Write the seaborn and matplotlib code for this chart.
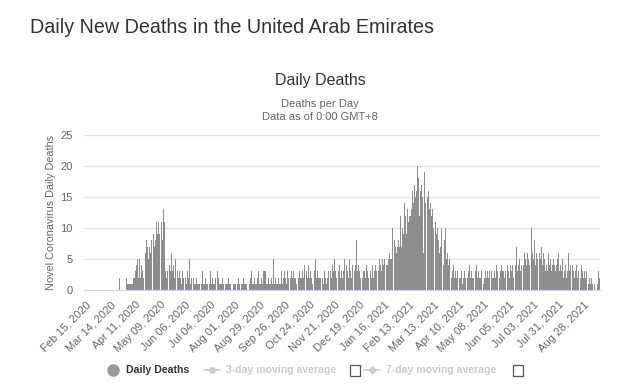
import seaborn as sns
import pandas as pd
import matplotlib.pyplot as plt
from matplotlib.lines import Line2D
from matplotlib.patches import Rectangle

# daily deaths (Feb 15 2020 .. Sep 15 2021)
feb_2020 = [0] * 15
mar_2020 = [0] * 23 + [2] + [0] * 7
apr_2020 = [2, 1, 2, 1, 1, 1, 1, 1, 2, 2, 3, 2, 4, 5, 2, 5, 2, 4, 3, 2, 6, 4, 6, 8, 7, 5, 7, 6, 8, 7]
may_2020 = [7, 9, 7, 8, 11, 9, 11, 9, 7, 9, 11, 8, 13, 11, 3, 2, 3, 6, 2, 4, 3, 6, 3, 4, 2, 5, 3, 2, 3, 2, 3]
jun_2020 = [2, 1, 3, 2, 2, 1, 2, 1, 3, 2, 5, 1, 2, 1, 2, 2, 1, 1, 2, 1, 1, 1, 2, 1, 1, 3, 1, 1, 2, 1]
jul_2020 = [1, 2, 1, 1, 3, 1, 2, 1, 1, 2, 1, 1, 3, 2, 1, 1, 1, 2, 1, 1, 0, 1, 1, 1, 2, 1, 1, 0, 1, 1, 1]
aug_2020 = [1, 1, 0, 1, 2, 1, 1, 0, 1, 1, 2, 1, 1, 1, 0, 1, 1, 1, 2, 3, 1, 1, 2, 1, 1, 0, 2, 3, 1, 1, 2]
sep_2020 = [1, 3, 3, 2, 3, 1, 1, 2, 1, 1, 2, 1, 1, 5, 1, 2, 1, 1, 2, 1, 1, 2, 3, 1, 2, 3, 2, 1, 3, 2]
oct_2020 = [2, 1, 2, 3, 2, 3, 2, 2, 1, 6, 4, 2, 3, 2, 2, 3, 2, 4, 2, 2, 3, 2, 4, 2, 3, 2, 1, 3, 2, 3, 5]
nov_2020 = [2, 3, 2, 2, 2, 6, 3, 2, 1, 3, 2, 1, 2, 3, 5, 2, 3, 2, 4, 3, 5, 3, 2, 3, 2, 3, 4, 2, 3, 2]
dec_2020 = [3, 5, 3, 2, 4, 3, 2, 5, 3, 2, 4, 3, 5, 3, 4, 8, 3, 4, 3, 2, 3, 4, 2, 3, 3, 2, 4, 3, 2, 4, 2]
jan_2021 = [3, 2, 4, 2, 3, 4, 3, 2, 4, 3, 5, 4, 3, 5, 4, 5, 6, 7, 4, 4, 5, 6, 5, 5, 10, 6, 6, 8, 7, 6, 7]
feb_2021 = [8, 7, 12, 7, 8, 10, 9, 14, 12, 9, 13, 11, 12, 18, 12, 13, 16, 14, 17, 15, 16, 20, 15, 18, 12, 16, 17, 15]
mar_2021 = [6, 19, 14, 16, 17, 15, 16, 13, 14, 12, 13, 10, 12, 16, 11, 9, 10, 8, 6, 7, 10, 5, 6, 4, 8, 10, 5, 6, 4, 5, 3]
apr_2021 = [3, 2, 3, 4, 2, 3, 2, 3, 2, 3, 2, 2, 3, 1, 2, 3, 2, 3, 2, 2, 3, 4, 2, 3, 2, 2, 3, 2, 3, 4]
may_2021 = [2, 3, 2, 2, 3, 2, 3, 1, 2, 3, 2, 3, 2, 3, 4, 2, 3, 2, 2, 3, 2, 4, 3, 2, 3, 2, 3, 4, 3, 3, 2]
jun_2021 = [3, 2, 3, 4, 3, 2, 4, 3, 4, 2, 3, 5, 4, 7, 3, 4, 5, 3, 4, 6, 3, 4, 6, 5, 4, 6, 5, 4, 3, 5]
jul_2021 = [10, 6, 5, 8, 4, 6, 5, 4, 3, 6, 5, 7, 4, 6, 5, 3, 4, 5, 3, 6, 4, 5, 3, 4, 5, 4, 7, 3, 4, 5, 6]
aug_2021 = [3, 4, 3, 5, 3, 2, 3, 4, 2, 3, 6, 3, 4, 2, 3, 4, 3, 2, 3, 4, 2, 3, 2, 3, 2, 4, 3, 2, 3, 2, 3]
sep_2021 = [2, 3, 1, 2, 1, 2, 1, 0, 1, 1, 2, 0, 1, 3, 2]

deaths = (feb_2020 + mar_2020 + apr_2020 + may_2020 + jun_2020 + jul_2020 + aug_2020
          + sep_2020 + oct_2020 + nov_2020 + dec_2020 + jan_2021 + feb_2021 + mar_2021
          + apr_2021 + may_2021 + jun_2021 + jul_2021 + aug_2021 + sep_2021)
dates = pd.date_range('2020-02-15', periods=len(deaths), freq='D')

tick_labels = ['Feb 15, 2020', 'Mar 14, 2020', 'Apr 11, 2020', 'May 09, 2020', 'Jun 06, 2020',
               'Jul 04, 2020', 'Aug 01, 2020', 'Aug 29, 2020', 'Sep 26, 2020', 'Oct 24, 2020',
               'Nov 21, 2020', 'Dec 19, 2020', 'Jan 16, 2021', 'Feb 13, 2021', 'Mar 13, 2021',
               'Apr 10, 2021', 'May 08, 2021', 'Jun 05, 2021', 'Jul 03, 2021', 'Jul 31, 2021',
               'Aug 28, 2021']

df = pd.DataFrame({'day': range(len(deaths)), 'date': dates, 'deaths': deaths})

sns.set_style('white')
plt.rcParams['font.family'] = ['Liberation Sans', 'DejaVu Sans']

fig = plt.figure(figsize=(6.28, 3.85), dpi=100)
ax = fig.add_axes([0.133, 0.247, 0.823, 0.402])

sns.barplot(data=df, x='day', y='deaths', color='#8e8e8e', saturation=1,
            width=0.9, linewidth=0, native_scale=True, ax=ax)

ax.set_xlim(-2, len(deaths))
ax.set_ylim(0, 25)
ax.set_yticks(range(0, 26, 5))
ax.yaxis.grid(True, color='#e6e6e6', linewidth=1)
ax.set_axisbelow(True)
for s in ['top', 'right', 'left']:
    ax.spines[s].set_visible(False)
ax.spines['bottom'].set_color('#ccd6eb')

tick_pos = [df.index[df['date'] == pd.to_datetime(t)][0] for t in tick_labels]
ax.set_xticks(tick_pos)
ax.set_xticklabels(tick_labels, rotation=45, ha='right', rotation_mode='anchor',
                   fontsize=8, color='#666666')
ax.tick_params(axis='x', length=4, color='#ccd6eb', pad=3)
ax.tick_params(axis='y', length=0, labelsize=8, labelcolor='#666666', pad=8)
ax.set_xlabel('')
ax.set_ylabel('Novel Coronavirus Daily Deaths', fontsize=7.8, color='#666666', labelpad=3)

fig.text(0.048, 0.915, 'Daily New Deaths in the United Arab Emirates', fontsize=14.2,
         color='#333333')
fig.text(0.51, 0.778, 'Daily Deaths', fontsize=11.5, color='#333333', ha='center')
fig.text(0.51, 0.722, 'Deaths per Day', fontsize=8, color='#666666', ha='center')
fig.text(0.51, 0.688, 'Data as of 0:00 GMT+8', fontsize=8, color='#666666', ha='center')

# legend
ly = 1 - 370 / 385
fig.add_artist(Line2D([113 / 628], [ly], marker='o', markersize=8, color='#999999',
                      transform=fig.transFigure))
fig.text(126 / 628, ly, 'Daily Deaths', fontsize=7.6, weight='bold', color='#333333', va='center')
fig.add_artist(Line2D([204 / 628, 220 / 628], [ly, ly], color='#cccccc', linewidth=1.2,
                      transform=fig.transFigure))
fig.add_artist(Line2D([212 / 628], [ly], marker='o', markersize=4, color='#cccccc',
                      transform=fig.transFigure))
fig.text(226 / 628, ly, '3-day moving average', fontsize=7.6, weight='bold', color='#cccccc', va='center')
fig.add_artist(Line2D([364 / 628, 380 / 628], [ly, ly], color='#cccccc', linewidth=1.2,
                      transform=fig.transFigure))
fig.add_artist(Line2D([372 / 628], [ly], marker='D', markersize=3.5, color='#cccccc',
                      transform=fig.transFigure))
fig.text(386 / 628, ly, '7-day moving average', fontsize=7.6, weight='bold', color='#cccccc', va='center')
for cx in [355, 518]:
    fig.add_artist(Rectangle(((cx - 5) / 628, ly - 6 / 385), 10 / 628, 11 / 385,
                             transform=fig.transFigure, fill=False, edgecolor='#555555',
                             linewidth=0.9))

fig.savefig('out.png', dpi=100)
